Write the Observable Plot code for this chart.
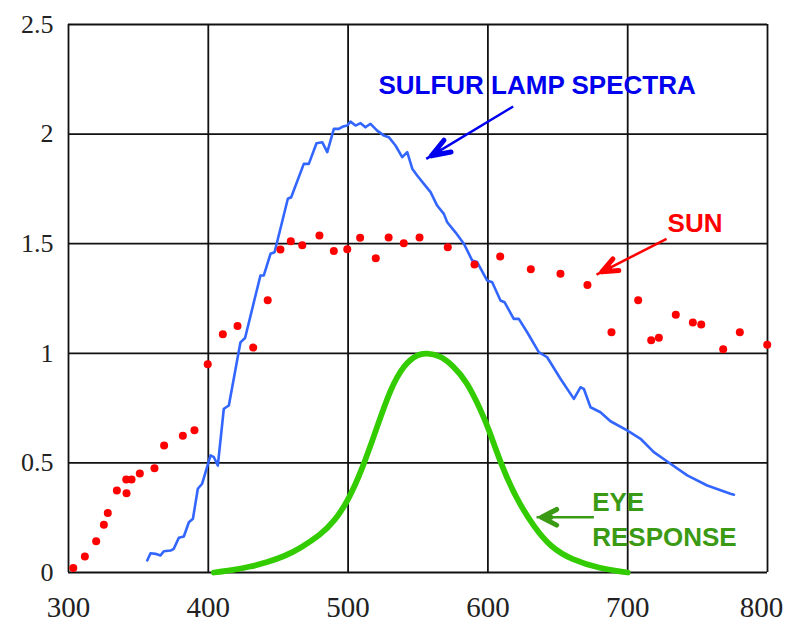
<!DOCTYPE html>
<html><head><meta charset="utf-8">
<script src="https://cdn.jsdelivr.net/npm/d3@7"></script>
<script src="https://cdn.jsdelivr.net/npm/@observablehq/plot@0.6"></script>
<style>body{margin:0;background:#fff}#chart{width:786px;height:624px}</style>
</head><body><div id="chart"></div><script>
const xTicks = [300, 400, 500, 600, 700];
const xLastTick = [800];
const yTicks = [0, 0.5, 1, 1.5, 2, 2.5];

const sunWavelength = [303.4, 311.7, 319.8, 325.3, 328.1, 334.6, 341.5, 341.3, 345.1, 351.0, 361.5, 368.4, 381.8, 390.1, 399.6, 410.4, 420.9, 432.1, 442.5, 451.6, 459.0, 467.2, 479.5, 489.8, 499.4, 508.6, 519.8, 529.0, 539.8, 551.1, 571.3, 590.4, 608.8, 630.7, 651.9, 671.2, 688.4, 707.5, 716.8, 722.3, 734.4, 746.6, 752.6, 768.3, 780.2, 799.8];
const sunValue = [0.02, 0.073, 0.143, 0.218, 0.272, 0.374, 0.362, 0.424, 0.424, 0.452, 0.476, 0.579, 0.624, 0.649, 0.950, 1.087, 1.124, 1.026, 1.242, 1.474, 1.511, 1.493, 1.537, 1.467, 1.475, 1.527, 1.434, 1.528, 1.502, 1.528, 1.484, 1.405, 1.442, 1.384, 1.363, 1.312, 1.096, 1.242, 1.060, 1.071, 1.176, 1.141, 1.131, 1.019, 1.096, 1.039];

const lampWavelength = [356.3, 358.7, 362.2, 365.8, 368.2, 373.0, 375.3, 378.9, 382.5, 386.1, 389.0, 392.5, 395.6, 401.6, 404.0, 406.8, 411.1, 414.7, 423.0, 426.3, 437.3, 439.7, 444.5, 447.4, 456.9, 459.3, 468.3, 471.9, 477.4, 481.5, 485.1, 489.8, 493.4, 496.5, 499.4, 501.7, 505.3, 508.9, 512.4, 516.0, 520.8, 525.5, 529.1, 533.9, 538.7, 542.3, 545.9, 549.4, 554.2, 559.0, 563.7, 568.5, 570.9, 576.8, 582.8, 588.8, 592.3, 599.5, 603.1, 609.0, 611.9, 618.5, 622.1, 628.1, 636.4, 642.4, 651.9, 661.5, 666.2, 668.6, 673.4, 680.5, 687.7, 699.6, 709.2, 718.7, 730.6, 742.6, 756.9, 773.5, 776.0];
const lampValue = [0.055, 0.088, 0.085, 0.078, 0.097, 0.100, 0.108, 0.158, 0.164, 0.229, 0.245, 0.382, 0.405, 0.534, 0.526, 0.488, 0.747, 0.762, 1.050, 1.070, 1.355, 1.355, 1.454, 1.461, 1.705, 1.712, 1.864, 1.864, 1.958, 1.963, 1.918, 2.024, 2.024, 2.035, 2.039, 2.057, 2.039, 2.050, 2.031, 2.047, 2.016, 1.994, 1.986, 1.948, 1.895, 1.918, 1.842, 1.811, 1.773, 1.735, 1.674, 1.636, 1.598, 1.552, 1.500, 1.423, 1.416, 1.332, 1.324, 1.241, 1.233, 1.157, 1.157, 1.096, 1.005, 0.982, 0.884, 0.792, 0.845, 0.838, 0.754, 0.731, 0.690, 0.648, 0.610, 0.549, 0.496, 0.443, 0.397, 0.359, 0.355];

const eyeWavelength = [404, 418, 430, 442, 455, 466, 480, 490, 500, 510, 520, 530, 540, 550, 556, 565, 575, 585, 595, 601, 609, 620, 633, 645, 660, 680, 700];
const eyeValue = [0.0, 0.012, 0.026, 0.047, 0.075, 0.112, 0.17, 0.232, 0.327, 0.47, 0.65, 0.835, 0.95, 0.997, 1.0, 0.992, 0.945, 0.87, 0.74, 0.648, 0.5, 0.34, 0.207, 0.115, 0.058, 0.018, 0.0];

const labelNames = ["SULFUR LAMP SPECTRA", "SUN", "EYE\nRESPONSE"];

const sun = sunWavelength.map((w, i) => ({w, v: sunValue[i]}));
const lamp = lampWavelength.map((w, i) => ({w, v: lampValue[i]}));
const eye = eyeWavelength.map((w, i) => ({w, v: eyeValue[i]}));

// annotation placement (data coordinates)
const lampLabel = [{x: 521.7, y: 2.184, t: labelNames[0]}];
const sunLabel = [{x: 728.5, y: 1.552, t: labelNames[1]}];
const eyeLabel = [{x: 674.6, y: 0.123, t: labelNames[2]}];
const lampArrow = [{x1: 618.1, y1: 2.126, x2: 555.9, y2: 1.887}];
const sunArrow = [{x1: 727.8, y1: 1.522, x2: 677.7, y2: 1.359}];
const eyeArrow = [{x1: 675.8, y1: 0.252, x2: 634.8, y2: 0.252}];

const bold = {fontFamily: "Liberation Sans", fontWeight: "bold", fontSize: 26, textAnchor: "start", lineAnchor: "bottom"};
const xy = {x1: "x1", y1: "y1", x2: "x2", y2: "y2"};
const xAxisStyle = {tickSize: 0, tickPadding: 24, fontSize: 29, fontFamily: "Liberation Serif", fill: "#222"};

const chart = Plot.plot({
  width: 786,
  height: 624,
  marginLeft: 68,
  marginRight: 19,
  marginTop: 24,
  marginBottom: 52,
  style: {fontFamily: "Liberation Serif", background: "white"},
  x: {domain: [300, 800]},
  y: {domain: [0, 2.5]},
  marks: [
    Plot.ruleX([...xTicks, ...xLastTick], {stroke: "#111", strokeWidth: 1.8}),
    Plot.ruleY(yTicks, {stroke: "#111", strokeWidth: 1.8}),
    Plot.axisX(xTicks, xAxisStyle),
    Plot.axisX(xLastTick, {...xAxisStyle, dx: -6}),
    Plot.axisY(yTicks, {tickSize: 0, tickPadding: 15, fontSize: 26, fontFamily: "Liberation Serif", fill: "#222", tickFormat: d => String(d)}),
    Plot.line(eye, {x: "w", y: "v", stroke: "#33cc00", strokeWidth: 5.8, curve: "basis"}),
    Plot.line(lamp, {x: "w", y: "v", stroke: "#3366ff", strokeWidth: 2.6, strokeLinejoin: "round"}),
    Plot.dot(sun, {x: "w", y: "v", r: 4, fill: "#ff0000"}),
    Plot.text(lampLabel, {...bold, x: "x", y: "y", text: "t", fill: "#0000ee"}),
    Plot.text(sunLabel, {...bold, x: "x", y: "y", text: "t", fill: "#ff0000"}),
    Plot.text(eyeLabel, {...bold, x: "x", y: "y", text: "t", fill: "#3a9a14", lineHeight: 1.32}),
    Plot.link(lampArrow, {...xy, stroke: "#0000ee", strokeWidth: 2.5}),
    Plot.arrow(lampArrow, {...xy, stroke: "#0000ee", strokeWidth: 5, headLength: 6, headAngle: 40, insetStart: 86, insetEnd: 6, strokeLinejoin: "miter"}),
    Plot.link(sunArrow, {...xy, stroke: "#ff0000", strokeWidth: 2.5}),
    Plot.arrow(sunArrow, {...xy, stroke: "#ff0000", strokeWidth: 5, headLength: 5.1, headAngle: 45, insetStart: 64, insetEnd: 6, strokeLinejoin: "miter"}),
    Plot.link(eyeArrow, {...xy, stroke: "#3a9a14", strokeWidth: 2.5}),
    Plot.arrow(eyeArrow, {...xy, stroke: "#3a9a14", strokeWidth: 5, headLength: 5.1, headAngle: 55, insetStart: 43, insetEnd: 5, strokeLinejoin: "miter"})
  ]
});
document.getElementById("chart").appendChild(chart);
</script></body></html>
